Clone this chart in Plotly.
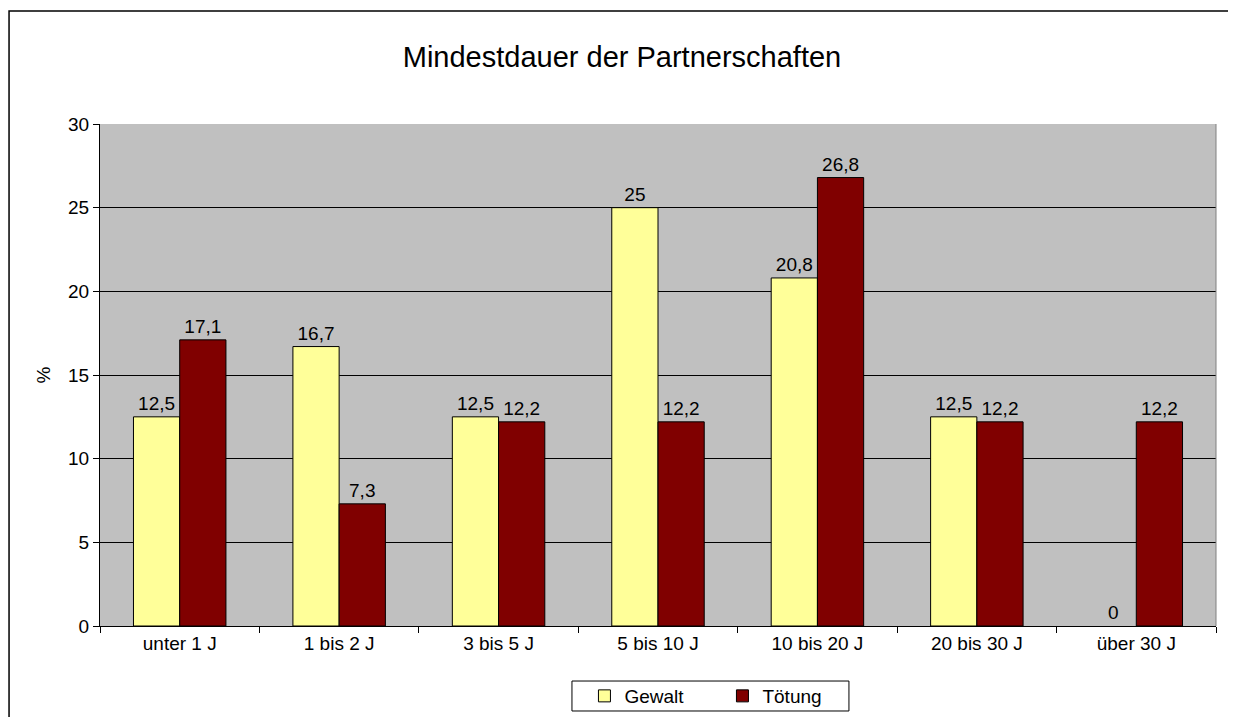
import plotly.graph_objects as go

categories = ["unter 1 J", "1 bis 2 J", "3 bis 5 J", "5 bis 10 J", "10 bis 20 J", "20 bis 30 J", "über 30 J"]
gewalt = [12.5, 16.7, 12.5, 25, 20.8, 12.5, 0]
toetung = [17.1, 7.3, 12.2, 12.2, 26.8, 12.2, 12.2]
y_ticks = [0, 5, 10, 15, 20, 25, 30]


def de(v):
    return ("%g" % v).replace(".", ",")


font = "Liberation Sans, Arial, sans-serif"
fs = 19
fig = go.Figure()
fig.add_trace(go.Bar(name="Gewalt", x=categories, y=gewalt, text=[de(v) for v in gewalt],
                     textposition="outside", cliponaxis=False,
                     textfont=dict(size=fs, color="black"),
                     marker=dict(color="#FFFF99",
                                 line=dict(color="black", width=[1 if v > 0 else 0 for v in gewalt]))))
fig.add_trace(go.Bar(name="Tötung", x=categories, y=toetung, text=[de(v) for v in toetung],
                     textposition="outside", cliponaxis=False,
                     textfont=dict(size=fs, color="black"),
                     marker=dict(color="#800000",
                                 line=dict(color="black", width=[1 if v > 0 else 0 for v in toetung]))))

fig.update_layout(
    width=1228, height=709,
    margin=dict(l=92, r=20, t=116, b=91, autoexpand=False),
    paper_bgcolor="white", plot_bgcolor="#C0C0C0",
    font=dict(family=font, size=fs, color="black"),
    barmode="group", bargap=0.42, bargroupgap=0,
    title=dict(text="Mindestdauer der Partnerschaften", x=0.5, xanchor="center",
               y=0.931, yanchor="middle", font=dict(size=29, family=font)),
    showlegend=True,
    legend=dict(orientation="h", xref="container", yref="container",
                x=0.5818, xanchor="center", y=0.0296, yanchor="middle",
                borderwidth=0, bgcolor="rgba(0,0,0,0)",
                font=dict(size=fs, family=font), entrywidth=93),
    xaxis=dict(showline=True, linecolor="black", linewidth=1, ticks="outside",
               tickson="boundaries", ticklen=6, tickcolor="black", showgrid=False,
               tickfont=dict(size=fs)),
    yaxis=dict(range=[0, 30], tickvals=y_ticks, showline=True, linecolor="black", linewidth=1,
               ticks="outside", ticklen=6, tickcolor="black", showgrid=True, gridcolor="black",
               gridwidth=1, zeroline=False, tickfont=dict(size=fs),
               title=dict(text="%", font=dict(size=fs), standoff=12)),
    shapes=[
        dict(type="rect", xref="paper", yref="paper", x0=-0.0815, y0=-0.3, x1=1.05, y1=1.2251,
             line=dict(color="black", width=1.5), fillcolor="rgba(0,0,0,0)", layer="below"),
        dict(type="line", xref="paper", yref="paper", x0=1, y0=0, x1=1, y1=1,
             line=dict(color="#808080", width=1)),
        dict(type="rect", xref="paper", yref="paper", x0=0.4229, x1=0.6711, y0=-0.1693, y1=-0.1096,
             line=dict(color="black", width=1), fillcolor="white", layer="below"),
    ],
)

fig.write_html("out.html")
